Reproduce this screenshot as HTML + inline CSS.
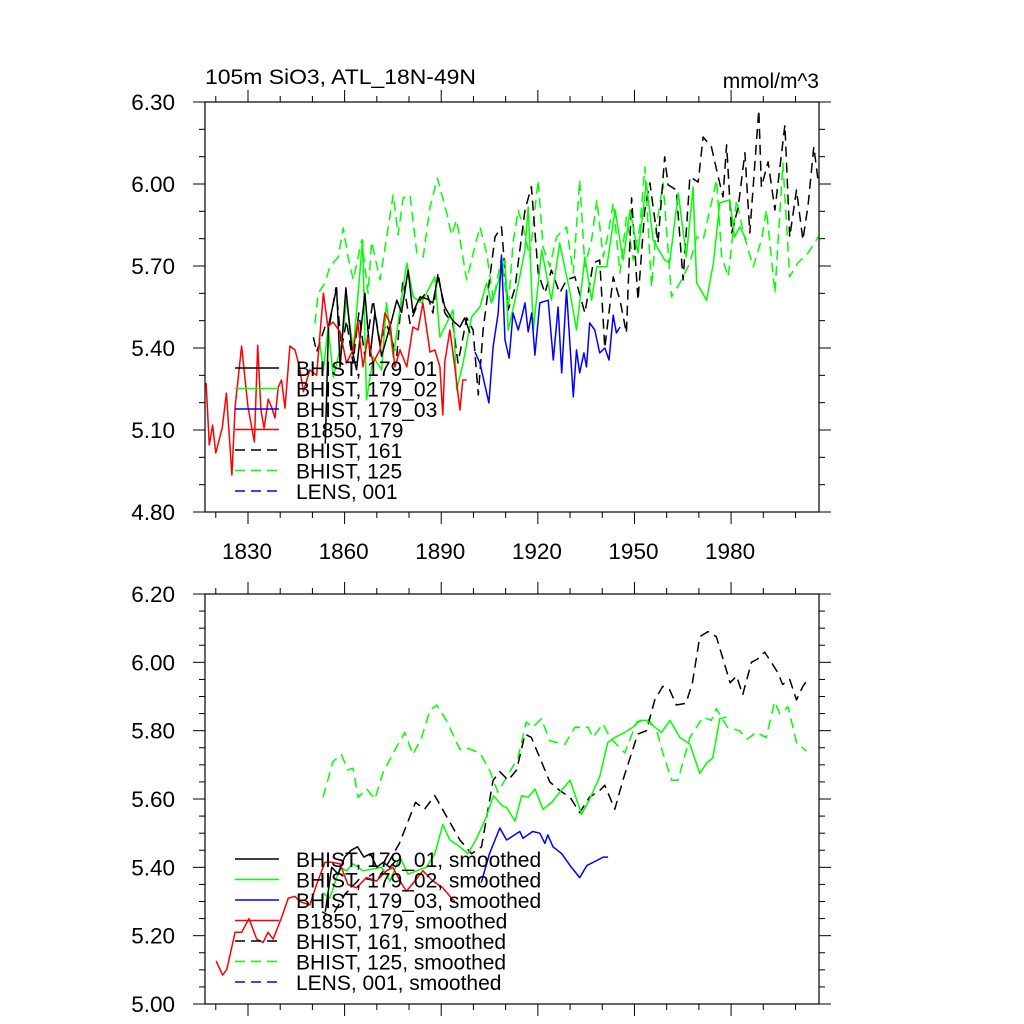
<!DOCTYPE html>
<html><head><meta charset="utf-8"><style>
body{margin:0;background:#fff;}
svg{display:block;font-family:"Liberation Sans",sans-serif;}
</style></head><body>
<svg id="chart" width="1024" height="1024" viewBox="0 0 1024 1024">
<text x="205" y="84" font-size="21" textLength="271" lengthAdjust="spacingAndGlyphs">105m SiO3, ATL_18N-49N</text>
<text x="819" y="88" font-size="21" text-anchor="end">mmol/m^3</text>
<g id="top"></g>
<g id="bot"></g>
</svg>
<script>
// ---- data: raw annual (top panel) ----
const redYears=[1817,1818,1819,1820,1822,1823.3,1825,1826,1828,1830,1832,1833,1834,1835,1836.3,1837.3,1838.4,1839.4,1840.4,1841.5,1843,1844.6,1846,1847.2,1849.2,1851.3,1853.4,1854.8,1856.4,1858.6,1860.6,1862.6,1864.1,1865.7,1867.2,1868.8,1871,1872.5,1874.1,1875.6,1877.2,1879.3,1881.2,1882.8,1884.3,1886.5,1888,1889.6,1890.5,1891.1,1892.7,1894.2,1895.8,1896.7,1897.9];
const redVals=[5.272,5.045,5.118,5.016,5.107,5.235,4.935,5.184,5.407,5.184,5.056,5.41,5.173,5.107,5.213,5.184,5.144,5.257,5.283,5.18,5.407,5.393,5.33,5.24,5.32,5.30,5.601,5.477,5.495,5.459,5.345,5.393,5.495,5.331,5.44,5.345,5.393,5.528,5.492,5.331,5.393,5.331,5.477,5.466,5.565,5.385,5.393,5.331,5.155,5.349,5.466,5.331,5.173,5.283,5.283];
const blk1Years=[1854,1855,1857.5,1858.6,1860.4,1862.2,1863.7,1866.3,1867.9,1869.4,1871.5,1874.6,1876.2,1877.7,1879.7,1881.2,1883.4,1885.5,1887.4,1889,1891.1,1893.6,1895.8,1897.3,1898.9];
const blk1Vals=[5.05,5.48,5.62,5.33,5.62,5.40,5.32,5.60,5.37,5.53,5.37,5.50,5.575,5.53,5.685,5.53,5.587,5.58,5.565,5.66,5.55,5.50,5.477,5.51,5.455];
const grn2Years=[1852.3,1853.4,1854.9,1856.5,1859.1,1860.6,1862.7,1865.6,1866.8,1868.9,1871.5,1873,1875.1,1879.3,1881.3,1883.9,1888,1889.6,1893.7,1894.8,1896.8,1899.4,1902,1904.1,1905.6,1907.2,1909.8,1910.8,1912.9,1916,1917,1918.6,1921.2,1924.2,1926.8,1930,1932,1934.6,1936.7,1938.3,1941.4,1944,1946.5,1948.6,1951.1,1953.7,1955.8,1959.4,1960.9,1963.6,1966.1,1968.2,1969.3,1972.4,1974.5,1976.5,1979.6,1981.1,1982.7,1984.8];
const grn2Vals=[5.418,5.32,5.477,5.294,5.418,5.575,5.393,5.795,5.21,5.367,5.32,5.565,5.367,5.711,5.587,5.565,5.66,5.44,5.539,5.246,5.345,5.513,5.55,5.638,5.565,5.623,5.722,5.466,5.575,5.758,5.916,5.466,5.758,5.575,5.784,5.601,5.466,5.733,5.575,5.697,5.697,5.905,5.722,5.905,5.748,6.004,5.795,5.722,5.711,5.967,5.733,5.989,5.638,5.575,5.711,5.931,5.942,5.806,5.843,5.795];
const blu3Years=[1900.5,1902,1904.8,1906.1,1907.7,1908.7,1909.8,1911.1,1912.3,1913.9,1915,1916,1917,1918.1,1919.1,1920.6,1923.2,1924.8,1926.3,1927.4,1928.9,1931,1932,1933,1934.3,1935.1,1936.1,1937.7,1939.2,1940.8,1942.1,1943.4,1944.4,1945.5];
const blu3Vals=[5.385,5.345,5.199,5.404,5.528,5.74,5.429,5.363,5.528,5.466,5.513,5.565,5.459,5.528,5.374,5.565,5.575,5.356,5.55,5.309,5.612,5.221,5.393,5.309,5.382,5.331,5.492,5.466,5.382,5.40,5.356,5.52,5.455,5.477];
const b161Years=[1850.3,1851.3,1853.9,1855.4,1857.3,1859.1,1860.6,1862.6,1864.4,1866.3,1868.8,1871,1873,1876.2,1878.1,1880.3,1882.8,1885.5,1887.4,1889,1891.1,1893.6,1895.2,1897.9,1899.9,1901.5,1903,1904.6,1906.7,1908.7,1910.8,1912.9,1916,1918,1920.1,1922.2,1924.2,1926.8,1928.9,1931.5,1934.6,1937.2,1939.2,1940.8,1943.4,1945.5,1947.5,1949.1,1951.1,1953.2,1954.8,1957.3,1959.4,1960.4,1963,1965.1,1967.2,1969.8,1971.3,1973.9,1976,1977.5,1978.6,1980.2,1982.2,1984.3,1985.8,1988.6,1989.4,1991.5,1993.6,1996.7,1998.2,2000.3,2002.3,2003.9,2005.7,2007];
const b161Vals=[5.44,5.385,5.477,5.49,5.62,5.40,5.50,5.345,5.528,5.37,5.575,5.418,5.49,5.37,5.65,5.49,5.565,5.605,5.528,5.675,5.528,5.49,5.345,5.51,5.466,5.228,5.466,5.612,5.806,5.843,5.539,5.62,5.905,5.99,5.674,5.601,5.685,5.601,5.649,5.66,5.528,5.711,5.722,5.40,5.66,5.575,5.455,5.949,5.575,5.905,6.004,5.784,6.099,5.997,5.978,5.649,6.026,6.007,6.172,6.136,6.026,5.953,6.143,5.821,5.916,6.114,5.821,6.271,5.989,6.081,5.905,6.216,5.806,5.978,5.795,5.923,6.136,6.015];
const g125Years=[1850.8,1851.8,1853.9,1855.4,1858,1859.6,1861.1,1862.7,1865.3,1867.3,1868.4,1871,1875.1,1876.6,1878.2,1880.3,1882.4,1884.4,1886.5,1888.8,1891.7,1893.2,1894.8,1897.9,1899.4,1902,1904.1,1906.2,1908.7,1910.8,1912.3,1913.9,1915.4,1917.5,1920.1,1921.6,1923.7,1925.8,1928.9,1931,1933,1934.6,1936.7,1938.3,1940.3,1941.9,1943.4,1945.5,1947.5,1949.6,1951.7,1953.2,1955.3,1956.8,1958.9,1961.5,1964.1,1967.2,1969.3,1971.3,1972.9,1975.5,1977.1,1979.1,1981.7,1983.8,1986.9,1989.4,1991,1993.6,1996.1,1998.2,2000.7,2003.9,2005.9,2007];
const g125Vals=[5.49,5.60,5.638,5.697,5.733,5.839,5.729,5.649,5.795,5.60,5.788,5.649,5.96,5.813,5.949,5.96,5.748,5.733,5.916,6.022,5.894,5.813,5.868,5.649,5.722,5.843,5.748,5.575,5.733,5.539,5.784,5.905,5.843,5.733,6.015,5.77,5.697,5.806,5.843,5.674,6.015,5.697,5.795,5.942,5.733,5.821,5.931,5.674,5.879,5.722,5.843,6.062,5.623,5.843,6.004,5.587,5.638,5.711,5.806,5.795,5.879,6.015,5.733,5.66,5.942,5.821,5.697,5.795,5.905,5.601,6.077,5.66,5.711,5.748,5.784,5.806];
// ---- data: smoothed (bottom panel) ----
const redSmY=[1820.1,1822.1,1823.4,1826,1828,1830.3,1832.7,1834.7,1836.2,1837.8,1840.5,1842.5,1844.6,1846.1,1849.2,1851.3,1853.9,1856,1858.6,1861,1863.7,1866.8,1869.9,1873,1875,1877.2,1879.2,1881.8,1884.3,1887.4,1890.5,1893.2,1894.2];
const redSmV=[5.126,5.085,5.10,5.21,5.21,5.25,5.19,5.18,5.21,5.19,5.255,5.31,5.315,5.30,5.29,5.35,5.415,5.415,5.41,5.35,5.34,5.37,5.36,5.39,5.40,5.36,5.33,5.36,5.39,5.36,5.34,5.31,5.30];
const blk1SmY=[1854,1856,1858,1860,1862,1864,1866,1868,1870,1872,1874,1876];
const blk1SmV=[5.27,5.40,5.38,5.43,5.45,5.46,5.43,5.44,5.40,5.415,5.40,5.42];
const grn2SmY=[1853.3,1855.4,1858.6,1860.6,1862.6,1865.7,1871.5,1874.1,1877.2,1879.7,1882.3,1885.4,1888,1890.5,1892.7,1895.8,1898.3,1901,1904.1,1906.2,1908.9,1910.3,1912.9,1915,1917,1919.1,1921.6,1924.3,1926.8,1930,1933.6,1936.1,1939.2,1941.7,1943.9,1947,1949.5,1951.7,1953.7,1958.4,1961,1964.1,1967.2,1970.3,1972.4,1974.3,1976.5,1978.6];
const grn2SmV=[5.325,5.31,5.40,5.39,5.41,5.39,5.40,5.36,5.43,5.38,5.39,5.40,5.44,5.525,5.48,5.46,5.44,5.485,5.55,5.61,5.58,5.575,5.535,5.61,5.605,5.63,5.57,5.59,5.62,5.655,5.555,5.60,5.665,5.765,5.78,5.795,5.81,5.83,5.83,5.795,5.83,5.78,5.76,5.675,5.705,5.72,5.835,5.84];
const blu3SmY=[1902.4,1905,1908.2,1910.3,1914.4,1915.4,1918.4,1920.6,1922.2,1923.1,1924.7,1927.4,1930,1933,1935.2,1938.3,1940.3,1941.8];
const blu3SmV=[5.355,5.44,5.515,5.48,5.505,5.485,5.505,5.50,5.47,5.495,5.46,5.44,5.405,5.37,5.405,5.42,5.43,5.43];
const b161SmY=[1853,1856,1860,1865,1870,1874,1877,1882,1884.8,1888,1891.6,1895.8,1899.4,1902.5,1906.1,1908.2,1910.8,1913.4,1916,1918,1920,1923.7,1926.8,1930,1933,1936,1939.2,1940.8,1943.9,1946.4,1951,1953.7,1956.3,1958.8,1960.9,1963,1966,1968,1970.3,1972.8,1975.4,1977.5,1979.7,1981.7,1983.6,1986.3,1988.3,1990.4,1992.5,1994.5,1996,1998.2,2000.3,2002.3,2003.8];
const b161SmV=[5.27,5.255,5.32,5.37,5.36,5.42,5.47,5.59,5.57,5.61,5.55,5.48,5.44,5.46,5.655,5.68,5.655,5.685,5.79,5.78,5.735,5.65,5.625,5.605,5.56,5.605,5.625,5.64,5.57,5.655,5.79,5.80,5.89,5.93,5.92,5.875,5.88,5.94,6.075,6.09,6.075,6.01,5.94,5.96,5.905,6.00,6.01,6.03,6.00,5.97,5.935,5.95,5.89,5.93,5.95];
const g125SmY=[1853.3,1856.4,1859,1861,1862.6,1864.2,1866.8,1869.4,1872,1876,1878.7,1881.2,1883.9,1886.5,1888.6,1891.6,1895.8,1897.8,1902,1905,1907.6,1911.3,1913.8,1916.4,1918.4,1921.1,1923.7,1928.4,1931.5,1935.6,1937.1,1940.2,1942.4,1947,1950.7,1954.2,1956.9,1958.8,1961.6,1963.5,1967.2,1971.3,1973.9,1975.4,1978.9,1982.6,1985,1987.8,1990.9,1993.5,1995.1,1997.7,2000.3,2003.4];
const g125SmV=[5.605,5.71,5.73,5.685,5.69,5.605,5.63,5.60,5.68,5.75,5.795,5.73,5.78,5.86,5.875,5.83,5.745,5.75,5.735,5.685,5.62,5.68,5.72,5.825,5.81,5.835,5.77,5.76,5.81,5.81,5.78,5.82,5.78,5.735,5.825,5.835,5.80,5.735,5.655,5.655,5.78,5.84,5.83,5.865,5.81,5.80,5.775,5.795,5.78,5.885,5.85,5.87,5.765,5.74];
// ---- axes ----
const xTickYears=[1830,1860,1890,1920,1950,1980];
const topYTicks=["4.80","5.10","5.40","5.70","6.00","6.30"];
const botYTicks=["5.00","5.20","5.40","5.60","5.80","6.00","6.20"];
const legTop=["BHIST, 179_01","BHIST, 179_02","BHIST, 179_03","B1850, 179","BHIST, 161","BHIST, 125","LENS, 001"];
const legBot=["BHIST, 179_01, smoothed","BHIST, 179_02, smoothed","BHIST, 179_03, smoothed","B1850, 179, smoothed","BHIST, 161, smoothed","BHIST, 125, smoothed","LENS, 001, smoothed"];

const NS="http://www.w3.org/2000/svg";
const L=205,R=819,X0=1816.65,X1=2007.3;
function xs(yr){return L+(yr-X0)/(X1-X0)*(R-L);}
function mk(tag,attrs,parent){const e=document.createElementNS(NS,tag);for(const k in attrs)e.setAttribute(k,attrs[k]);parent.appendChild(e);return e;}

function panel(g,top,bot,ymin,ymax,ytick,minorStep,showX,name){
  const ys=v=>bot-(v-ymin)/(ymax-ymin)*(bot-top);
  for(let yr=1820;yr<=2000;yr+=10){
    const x=xs(yr),maj=xTickYears.includes(yr),len=maj?12:6;
    const t1=mk('line',{x1:x,x2:x,y1:bot,y2:bot+len,stroke:'#000','stroke-width':1},g);
    
    
    const t2=mk('line',{x1:x,x2:x,y1:top,y2:top-len,stroke:'#000','stroke-width':1},g);
    
    
  }
  if(showX){xTickYears.forEach(yr=>{
    const t=mk('text',{x:xs(yr)-1,y:bot+47,'font-size':22.5,'text-anchor':'middle'},g);t.textContent=yr;
    
    
  });}
  for(let v=ymin;v<=ymax+1e-6;v+=minorStep){
    const y=ys(v),maj=ytick.some(s=>Math.abs(parseFloat(s)-v)<1e-6),len=maj?12:6;
    const a=mk('line',{x1:L,x2:L-len,y1:y,y2:y,stroke:'#000','stroke-width':1},g);
    
    
    const b=mk('line',{x1:R,x2:R+len,y1:y,y2:y,stroke:'#000','stroke-width':1},g);
    
    
  }
  ytick.forEach(s=>{
    const t=mk('text',{x:175,y:ys(parseFloat(s))+8,'font-size':22.5,'text-anchor':'end'},g);t.textContent=s;
    
    
  });
  const fr=mk('rect',{x:L,y:top,width:R-L,height:bot-top,fill:'none',stroke:'#000','stroke-width':1.2},g);
  
  
  return ys;
}
function series(g,ys,yrs,vals,color,dash,name){
  const d=yrs.map((yr,i)=>(i?'L':'M')+xs(yr).toFixed(1)+','+ys(vals[i]).toFixed(1)).join('');
  const p=mk('path',{d:d,fill:'none',stroke:color,'stroke-width':1.5,'stroke-linejoin':'round'},g);
  if(dash)p.setAttribute('stroke-dasharray','10,6');
  
  
}
function legend(g,y0,labels){
  const st=[['#000',0],['#00ff00',0],['#0000ff',0],['#ff0000',0],['#000',1],['#00ff00',1],['#0000ff',1]];
  labels.forEach((lb,i)=>{
    const y=y0+i*20.5;
    const ln=mk('line',{x1:235,x2:279,y1:y,y2:y,stroke:st[i][0],'stroke-width':1.5},g);
    if(st[i][1])ln.setAttribute('stroke-dasharray','10,6');
    
    
    const t=mk('text',{x:296,y:y+8,'font-size':21},g);t.textContent=lb;
    
    
  });
}
const gt=document.getElementById('top'),gb=document.getElementById('bot');
const yt=panel(gt,102,512,4.8,6.3,topYTicks,0.1,true,'top-plot');
series(gt,yt,g125Years,g125Vals,'#00ff00',true,'line-bhist-125');
series(gt,yt,b161Years,b161Vals,'#000',true,'line-bhist-161');
series(gt,yt,grn2Years,grn2Vals,'#00ff00',false,'line-bhist-179-02');
series(gt,yt,blk1Years,blk1Vals,'#000',false,'line-bhist-179-01');
series(gt,yt,blu3Years,blu3Vals,'#0000ff',false,'line-bhist-179-03');
series(gt,yt,redYears,redVals,'#ff0000',false,'line-b1850-179');
legend(gt,368,legTop);
const yb=panel(gb,594,1004,5.0,6.2,botYTicks,0.05,false,'bottom-plot');
series(gb,yb,g125SmY,g125SmV,'#00ff00',true,'line-bhist-125-smoothed');
series(gb,yb,b161SmY,b161SmV,'#000',true,'line-bhist-161-smoothed');
series(gb,yb,grn2SmY,grn2SmV,'#00ff00',false,'line-bhist-179-02-smoothed');
series(gb,yb,blk1SmY,blk1SmV,'#000',false,'line-bhist-179-01-smoothed');
series(gb,yb,blu3SmY,blu3SmV,'#0000ff',false,'line-bhist-179-03-smoothed');
series(gb,yb,redSmY,redSmV,'#ff0000',false,'line-b1850-179-smoothed');
legend(gb,859,legBot);
</script>
</body></html>
